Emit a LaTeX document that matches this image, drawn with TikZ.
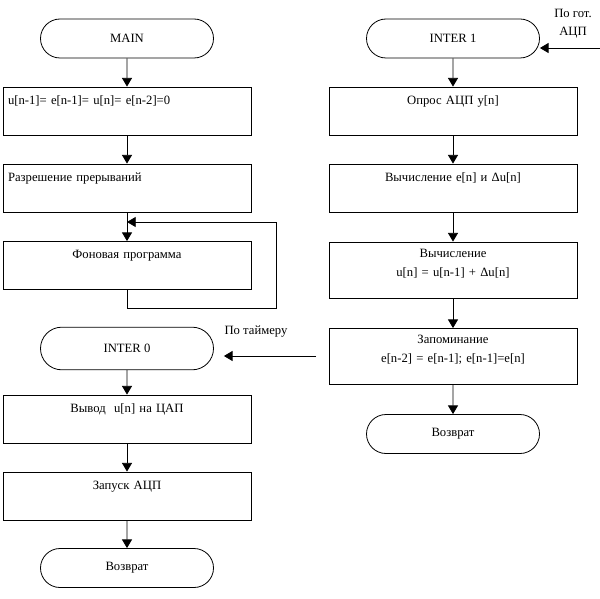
\documentclass[tikz,border=0pt]{standalone}
\usepackage{fontspec}
\setmainfont{Liberation Serif}
\usetikzlibrary{shapes.misc,arrows.meta}
\begin{document}
\begin{tikzpicture}[x=0.75pt,y=-0.75pt,
        font=\fontsize{9.5}{11}\selectfont,
        line width=0.6pt,
        arr/.style={-{Triangle[width=7.5pt,length=6.5pt]}},
        term/.style={draw,rounded rectangle,minimum width=129.75pt,
            minimum height=29.25pt,inner sep=0pt},
        blk/.style={draw,text width=178.5pt,inner xsep=3.75pt,inner ysep=3pt,
            align=center,text height=10pt,text depth=20pt},
        lblk/.style={blk,align=left},
        tall/.style={blk,text height=8.6pt,text depth=27.4pt,
            font=\fontsize{9.5}{14.25}\selectfont}]
    \useasboundingbox (0,0) rectangle (600,599);

    % main program
    \node[term] (main) at (127,38.5) {MAIN};
    \node[lblk] (init) at (127,111) {u[n-1]= e[n-1]= u[n]= e[n-2]=0};
    \node[lblk] (irq) at (127,188) {Разрешение прерываний};
    \node[blk] (bg) at (127,265.5) {Фоновая программа};
    \coordinate (join) at (127,222);
    \coordinate (loop) at (276,308);

    \draw[arr] (main) -- (init);
    \draw[arr] (init) -- (irq);
    \draw[arr] (irq) -- (bg);
    \draw[arr] (bg.south) |- (loop) |- (join);

    % timer interrupt
    \node[term,minimum height=32pt] (inter0) at (127,348.5) {INTER 0};
    \node[blk] (dac) at (127,419) {Вывод\ \ u[n] на ЦАП};
    \node[blk] (start) at (127,496) {Запуск АЦП};
    \node[term] (ret0) at (127,568) {Возврат};

    \draw[arr] (inter0) -- (dac);
    \draw[arr] (dac) -- (start);
    \draw[arr] (start) -- (ret0);

    \node (tmrlbl) at (256,332) {По таймеру};
    \coordinate (tmr) at (316,356);
    \draw[arr,shorten >=7.5pt] (tmr) -- (tmr -| inter0.east);

    % ADC interrupt
    \node[term] (inter1) at (453,38.5) {INTER 1};
    \node[blk] (poll) at (453,111) {Опрос АЦП y[n]};
    \node[blk] (err) at (453,188) {Вычисление e[n] и Δu[n]};
    \node[tall] (calc) at (453,270) {Вычисление\\u[n] = u[n-1] + Δu[n]};
    \node[tall] (store) at (453,356.5) {Запоминание\\e[n-2] = e[n-1]; e[n-1]=e[n]};
    \node[term] (ret1) at (453,434) {Возврат};

    \draw[arr] (inter1) -- (poll);
    \draw[arr] (poll) -- (err);
    \draw[arr] (err) -- (calc);
    \draw[arr] (calc) -- (store);
    \draw[arr] (store) -- (ret1);

    \node[align=center,font=\fontsize{9.5}{13.5}\selectfont] (adclbl) at (573,24) {По гот.\\АЦП};
    \coordinate (adc) at (600,48);
    \draw[arr] (adc) -- (adc -| inter1.east);
\end{tikzpicture}
\end{document}
